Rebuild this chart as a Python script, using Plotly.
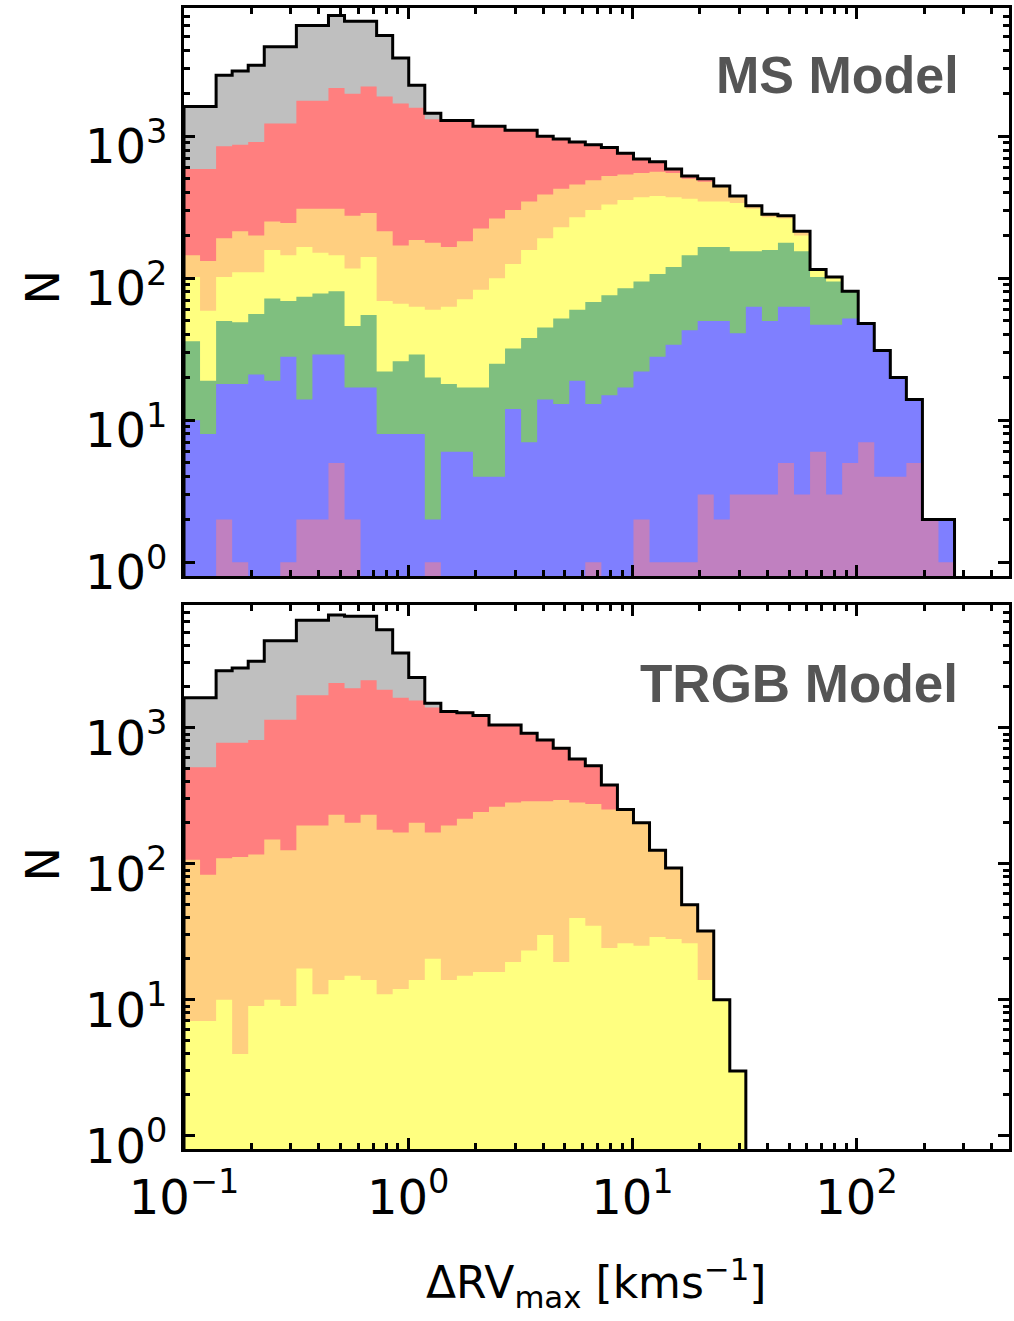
import numpy as np
import plotly.graph_objects as go

# Log-spaced histogram bins for Delta RV_max [km/s]; 48 bins for the MS model,
# the TRGB model uses the first 35 of them.
edges = np.logspace(-1.0, 2.437, 49)

# ---- MS model: counts per bin for each population (nested subsets) ----
ms_all = [1620, 1620, 2690, 2880, 3160, 4270, 4270, 6030, 6030, 7080,
          6460, 6460, 5130, 3550, 2290, 1450, 1290, 1290, 1175, 1175,
          1100, 1100, 1000, 955, 912, 871, 832, 759, 692, 661,
          589, 525, 501, 447, 380, 324, 282, 275, 214, 115,
          102, 81, 48, 31, 20, 14, 2, 2]
ms_red = [589, 589, 851, 871, 912, 1230, 1230, 1778, 1778, 2188,
          1995, 2239, 1905, 1698, 1585, 1318, 1290, 1290, 1175, 1175,
          1100, 1100, 1000, 955, 912, 871, 832, 759, 692, 661,
          589, 525, 501, 447, 380, 324, 282, 275, 214, 115,
          102, 81, 48, 31, 20, 14, 2, 2]
ms_orange = [145, 132, 191, 214, 200, 251, 245, 309, 309, 309,
             275, 288, 214, 170, 186, 178, 166, 182, 224, 263,
             302, 347, 389, 427, 457, 490, 525, 537, 550, 562,
             550, 501, 479, 447, 380, 324, 282, 275, 214, 115,
             102, 81, 48, 31, 20, 14, 2, 2]
ms_yellow = [102, 59, 102, 110, 110, 158, 145, 166, 151, 145,
             117, 141, 69, 66, 63, 60, 63, 71, 83, 100,
             126, 158, 191, 229, 269, 302, 331, 355, 372, 380,
             372, 363, 347, 347, 339, 309, 269, 263, 200, 115,
             102, 81, 48, 31, 20, 14, 2, 2]
ms_green = [36, 19, 50, 49, 56, 72, 69, 74, 78, 81,
            46, 55, 22, 26, 29, 20, 18, 17, 17, 25,
            32, 38, 45, 52, 60, 68, 76, 85, 95, 107,
            120, 145, 166, 166, 155, 155, 158, 178, 155, 102,
            95, 81, 48, 31, 20, 14, 2, 2]
ms_blue = [10, 8, 18, 18, 21, 19, 28, 14, 29, 29,
           17, 17, 8, 8, 8, 2, 6, 6, 4, 4,
           12, 7, 14, 13, 19, 13, 15, 17, 22, 28,
           34, 43, 50, 50, 41, 63, 50, 63, 63, 47,
           47, 52, 48, 31, 20, 14, 2, 2]
ms_purple = [0, 0, 2, 1, 0, 0, 1, 2, 2, 5,
             2, 0, 0, 0, 0, 1, 0, 0, 0, 0,
             0, 0, 0, 0, 0, 1, 0, 0, 2, 1,
             1, 1, 3, 2, 3, 3, 3, 5, 3, 6,
             3, 5, 7, 4, 4, 5, 2, 1]

# ---- TRGB model ----
trgb_all = [1660, 1660, 2630, 2750, 3090, 4365, 4365, 6166, 6166, 6760,
            6607, 6607, 5250, 3548, 2344, 1514, 1318, 1290, 1230, 1047,
            1047, 912, 813, 708, 589, 525, 380, 251, 200, 126,
            93, 50, 32, 10, 3]
trgb_red = [513, 513, 776, 776, 813, 1148, 1148, 1738, 1738, 2138,
            1950, 2239, 1905, 1660, 1585, 1413, 1318, 1290, 1230, 1047,
            1047, 912, 813, 708, 589, 525, 380, 251, 200, 126,
            93, 50, 32, 10, 3]
trgb_orange = [107, 83, 110, 112, 117, 151, 126, 191, 191, 229,
               200, 229, 178, 170, 200, 170, 191, 214, 240, 263,
               282, 288, 288, 295, 282, 275, 251, 251, 200, 126,
               93, 50, 32, 10, 3]
trgb_yellow = [7, 7, 10, 4, 9, 10, 9, 17, 11, 14,
               15, 14, 11, 12, 14, 20, 14, 15, 16, 16,
               19, 23, 30, 19, 40, 35, 24, 26, 25, 29,
               28, 26, 14, 10, 3]

x_tick_vals = [0.1, 1, 10, 100]
x_tick_text = ["10<sup>\u22121</sup>", "10<sup>0</sup>", "10<sup>1</sup>", "10<sup>2</sup>"]
y_tick_vals = [1, 10, 100, 1000]
y_tick_text = ["10<sup>0</sup>", "10<sup>1</sup>", "10<sup>2</sup>", "10<sup>3</sup>"]

FLOOR = 0.1  # below the visible y range, used as the base of every filled step
COLORS = {"all": "#bfbfbf", "red": "#ff7f7f", "orange": "#ffcf80",
          "yellow": "#ffff80", "green": "#7fbf7f", "blue": "#7f7fff",
          "purple": "#c080c0"}


def step_outline(counts):
    n = len(counts)
    xs, ys = [edges[0]], [FLOOR]
    for i in range(n):
        v = counts[i] if counts[i] > 0 else FLOOR
        xs += [edges[i], edges[i + 1]]
        ys += [v, v]
    xs.append(edges[n])
    ys.append(FLOOR)
    return xs, ys


fig = go.Figure()


def add_panel(series, xa, ya):
    for key, counts in series:
        xs, ys = step_outline(counts)
        fig.add_trace(go.Scatter(x=xs, y=ys, mode="lines", fill="toself",
                                 fillcolor=COLORS[key], line=dict(width=0),
                                 xaxis=xa, yaxis=ya, hoverinfo="skip",
                                 showlegend=False))
    xs, ys = step_outline(series[0][1])
    fig.add_trace(go.Scatter(x=xs, y=ys, mode="lines",
                             line=dict(color="black", width=3),
                             xaxis=xa, yaxis=ya, hoverinfo="skip",
                             showlegend=False))


add_panel([("all", ms_all), ("red", ms_red), ("orange", ms_orange),
           ("yellow", ms_yellow), ("green", ms_green), ("blue", ms_blue),
           ("purple", ms_purple)], "x2", "y2")
add_panel([("all", trgb_all), ("red", trgb_red), ("orange", trgb_orange),
           ("yellow", trgb_yellow)], "x", "y")

x_minor = [k * 10.0 ** d for d in range(-1, 3) for k in range(2, 10) if k * 10.0 ** d < 470]
y_minor = [k * 10.0 ** d for d in range(0, 4) for k in range(2, 10) if k * 10.0 ** d < 7900]

tick_font = dict(family="DejaVu Sans", size=48, color="black")


def frame_axis(**kw):
    d = dict(type="log", showline=True, linecolor="black", linewidth=3,
             mirror="ticks", ticks="inside", ticklen=11, tickwidth=3,
             tickcolor="black", showgrid=False, zeroline=False,
             tickfont=tick_font)
    d.update(kw)
    return d


minor_style = dict(ticks="inside", ticklen=6, tickwidth=3, tickcolor="black",
                   tickmode="array", showgrid=False)
x_common = dict(range=[-1, 2.68], tickmode="array", tickvals=x_tick_vals,
                ticktext=x_tick_text, minor=dict(tickvals=x_minor, **minor_style))
y_common = dict(range=[np.log10(0.8), np.log10(8000)], tickmode="array",
                tickvals=y_tick_vals, ticktext=y_tick_text,
                ticklabelshift=10, ticklabelstandoff=4,
                minor=dict(tickvals=y_minor, **minor_style))

fig.update_layout(
    width=1014, height=1321,
    margin=dict(l=184, r=2, t=8, b=172),
    paper_bgcolor="white", plot_bgcolor="white",
    xaxis=frame_axis(anchor="y", ticklabelstandoff=4, **x_common),
    yaxis=frame_axis(anchor="x", domain=[0, 0.4768], **y_common),
    xaxis2=frame_axis(anchor="y2", showticklabels=False, matches="x", **x_common),
    yaxis2=frame_axis(anchor="x2", domain=[0.5022, 1.0], **y_common),
)

label_gray = "#555555"
fig.add_annotation(text="<b>MS Model</b>", xref="paper", yref="paper",
                   x=0.942, y=0.9413, xanchor="right", yanchor="middle",
                   showarrow=False,
                   font=dict(family="Liberation Sans", size=52, color=label_gray))
fig.add_annotation(text="<b>TRGB Model</b>", xref="paper", yref="paper",
                   x=0.94, y=0.4084, xanchor="right", yanchor="middle",
                   showarrow=False,
                   font=dict(family="Liberation Sans", size=53, color=label_gray))

for yc in (0.7546, 0.249):
    fig.add_annotation(text="N", xref="paper", yref="paper", x=-0.1715, y=yc,
                       xanchor="center", yanchor="middle", textangle=-90,
                       showarrow=False,
                       font=dict(family="DejaVu Sans", size=46, color="black"))

fig.add_annotation(text="\u0394RV<sub>max</sub> [kms<sup>\u22121</sup>]",
                   xref="paper", yref="paper", x=0.4988, y=-0.1174,
                   xanchor="center", yanchor="middle", showarrow=False,
                   font=dict(family="DejaVu Sans", size=44, color="black"))

fig.write_html("out.html")
